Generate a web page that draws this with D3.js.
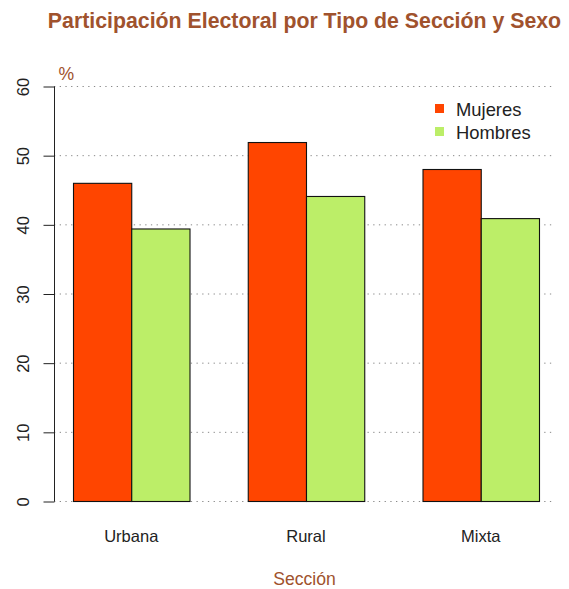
<!DOCTYPE html>
<html>
<head>
<meta charset="utf-8">
<script src="https://cdn.jsdelivr.net/npm/d3@7/dist/d3.min.js"></script>
<style>
  html, body { margin: 0; padding: 0; background: #fff; }
  svg { display: block; font-family: "Liberation Sans", Arial, Helvetica, sans-serif; }
</style>
</head>
<body>
<svg id="chart" width="569" height="589"></svg>
<script>
const categories = ["Urbana", "Rural", "Mixta"];
const seriesNames = ["Mujeres", "Hombres"];
const mujeres = [46.0, 51.9, 48.0];
const hombres = [39.4, 44.1, 40.9];
const yTicks = [0, 10, 20, 30, 40, 50, 60];
const colors = ["#FF4500", "#BCEE68"];

const titleText = "Participación Electoral por Tipo de Sección y Sexo";
const xLabel = "Sección";
const yUnit = "%";
const accent = "#A0522D";

const svg = d3.select("#chart");

const plotLeft = 54, plotRight = 555;
const y = d3.scaleLinear().domain([0, 60]).range([501, 86]);
const x0 = d3.scaleBand().domain(categories).range([73, 539]).paddingInner(1/3).paddingOuter(0);
const x1 = d3.scaleBand().domain(seriesNames).range([0, x0.bandwidth()]).padding(0);
const color = d3.scaleOrdinal().domain(seriesNames).range(colors);

// grid lines
svg.append("g").selectAll("line").data(yTicks).join("line")
  .attr("x1", plotLeft).attr("x2", plotRight)
  .attr("y1", d => y(d) + 0.5).attr("y2", d => y(d) + 0.5)
  .attr("stroke", "#8a8a8a").attr("stroke-width", 1)
  .attr("stroke-dasharray", "1.3,4.4");

// bars
const data = categories.map((c, i) => ({cat: c, vals: [
  {s: seriesNames[0], v: mujeres[i]},
  {s: seriesNames[1], v: hombres[i]}
]}));

const groups = svg.append("g").selectAll("g").data(data).join("g")
  .attr("transform", d => `translate(${x0(d.cat)},0)`);
groups.selectAll("rect").data(d => d.vals).join("rect")
  .attr("x", d => x1(d.s) + 0.5)
  .attr("y", d => y(d.v) + 0.5)
  .attr("width", x1.bandwidth())
  .attr("height", d => y(0) - y(d.v))
  .attr("fill", d => color(d.s))
  .attr("stroke", "#111")
  .attr("stroke-width", 1.1);

// y axis
const yAxis = d3.axisLeft(y).tickValues(yTicks).tickSize(11).tickFormat(d3.format("d"));
const gy = svg.append("g").attr("transform", `translate(${plotLeft + 0.5},0.5)`).call(yAxis);
gy.select(".domain").attr("stroke", "#222").attr("d", `M0,${y(0)}V${y(60)}`);
gy.selectAll(".tick line").attr("stroke", "#222");
gy.selectAll(".tick text")
  .attr("font-size", "16.5px").attr("fill", "#222")
  .attr("text-anchor", "middle")
  .attr("x", null).attr("dy", null)
  .attr("transform", "translate(-26,0) rotate(-90)");

// x category labels
svg.append("g").selectAll("text").data(categories).join("text")
  .attr("x", d => x0(d) + x0.bandwidth() / 2)
  .attr("y", 542)
  .attr("text-anchor", "middle")
  .attr("font-size", "16.5px")
  .attr("fill", "#222")
  .text(d => d);

// title
svg.append("text")
  .attr("x", (plotLeft + plotRight) / 2)
  .attr("y", 27.5)
  .attr("text-anchor", "middle")
  .attr("font-size", "21.3px")
  .attr("font-weight", "bold")
  .attr("fill", accent)
  .text(titleText);

// x label
svg.append("text")
  .attr("x", (plotLeft + plotRight) / 2)
  .attr("y", 585)
  .attr("text-anchor", "middle")
  .attr("font-size", "17.6px")
  .attr("fill", accent)
  .text(xLabel);

// % unit label
svg.append("text")
  .attr("x", 58.5)
  .attr("y", 79.5)
  .attr("font-size", "17.6px")
  .attr("fill", accent)
  .text(yUnit);

// legend
const legend = svg.append("g").selectAll("g").data(seriesNames).join("g")
  .attr("transform", (d, i) => `translate(435,${104 + i * 23})`);
legend.append("rect")
  .attr("x", 0).attr("y", 0).attr("width", 9).attr("height", 9)
  .attr("fill", d => color(d));
legend.append("text")
  .attr("x", 21).attr("y", 11.5)
  .attr("font-size", "18.4px")
  .attr("fill", "#222")
  .text(d => d);
</script>
</body>
</html>
